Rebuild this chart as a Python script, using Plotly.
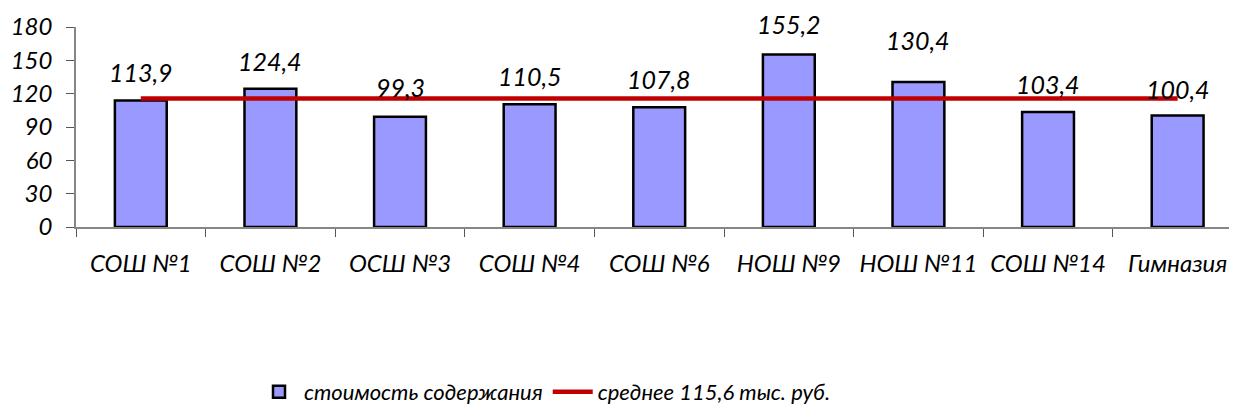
import plotly.graph_objects as go

categories = ["СОШ №1", "СОШ №2", "ОСШ №3", "СОШ №4", "СОШ №6", "НОШ №9", "НОШ №11", "СОШ №14", "Гимназия"]
costs = [113.9, 124.4, 99.3, 110.5, 107.8, 155.2, 130.4, 103.4, 100.4]
average = 115.6
value_labels = ["113,9", "124,4", "99,3", "110,5", "107,8", "155,2", "130,4", "103,4", "100,4"]
y_ticks = [0, 30, 60, 90, 120, 150, 180]

bar_name = "стоимость содержания"
line_name = "среднее 115,6 тыс. руб."

# styling: extra pixel nudges for label placement
label_nudge = [0, 0, 2, 0, 0, 3, 14, 0, -2]

FONT = dict(family="Lato", style="italic", color="black")

fig = go.Figure()
fig.add_trace(go.Bar(
    x=categories, y=costs, name=bar_name,
    marker=dict(color="#9999FF", line=dict(color="black", width=2.5)),
    width=0.40,
))
fig.add_trace(go.Scatter(
    x=categories, y=[average] * len(categories), name=line_name,
    mode="lines", line=dict(color="#C00000", width=4.5),
))

for i, (c, v, t) in enumerate(zip(categories, costs, value_labels)):
    fig.add_annotation(x=c, y=v, text=t, showarrow=False, yanchor="middle",
                       yshift=28 + label_nudge[i], font=dict(size=25, **FONT))

# page body has an 8px margin
W, H = 1229, 406
fig.update_layout(
    width=W, height=H,
    margin=dict(l=68, r=0, t=19, b=187, autoexpand=False),
    plot_bgcolor="white", paper_bgcolor="white",
    showlegend=True,
    legend=dict(orientation="h", xref="container", yref="container",
                x=246 / W, xanchor="left", y=22 / H, yanchor="middle",
                font=dict(size=22, **FONT), itemwidth=40,
                bgcolor="rgba(0,0,0,0)", traceorder="normal"),
    bargap=0.6,
)
fig.update_xaxes(
    range=[-0.5, 8.458], showgrid=False, automargin=False, tickangle=0,
    showline=True, linecolor="#868686", linewidth=2,
    ticks="outside", tickson="boundaries", ticklen=8, tickcolor="#555555",
    tickfont=dict(size=24, **FONT), ticklabelstandoff=14,
)
fig.update_yaxes(
    range=[0, 180], tickvals=y_ticks, showgrid=False, zeroline=False, automargin=False,
    showline=True, linecolor="#868686", linewidth=1.5,
    ticks="outside", ticklen=8, tickcolor="#555555",
    tickfont=dict(size=24, **FONT), ticklabelstandoff=9,
)

fig.write_html("out.html")
